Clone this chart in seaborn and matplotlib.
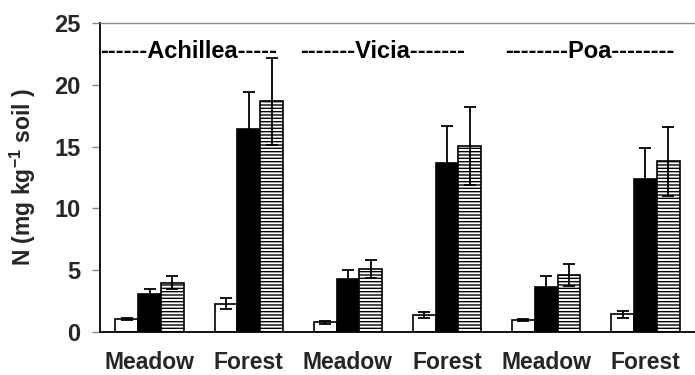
import numpy as np
import pandas as pd
import matplotlib
matplotlib.use("Agg")
import matplotlib.pyplot as plt
import seaborn as sns

# ---- data ----
groups = ["Meadow", "Forest", "Meadow", "Forest", "Meadow", "Forest"]
species = ["Achillea", "Vicia", "Poa"]
species_titles = ["------Achillea-----", "-------Vicia-------", "--------Poa--------"]
treatments = ["T1", "T2", "T3"]

white_vals = [1.05, 2.3, 0.78, 1.4, 0.97, 1.45]
white_err = [0.06, 0.47, 0.10, 0.25, 0.05, 0.28]
black_vals = [3.1, 16.4, 4.3, 13.65, 3.65, 12.4]
black_err = [0.35, 3.0, 0.75, 3.05, 0.85, 2.45]
striped_vals = [4.0, 18.65, 5.1, 15.05, 4.6, 13.8]
striped_err = [0.5, 3.55, 0.72, 3.15, 0.88, 2.8]

yticks = [0, 5, 10, 15, 20, 25]

# ---- build table ----
pos_labels = [f"{g}{i}" for i, g in enumerate(groups)]
rows = []
for vals, errs, t in [(white_vals, white_err, treatments[0]),
                      (black_vals, black_err, treatments[1]),
                      (striped_vals, striped_err, treatments[2])]:
    for p, v, e in zip(pos_labels, vals, errs):
        rows.append({"pos": p, "treat": t, "N": v, "err": e})
df = pd.DataFrame(rows)

sns.set_theme(style="white")
plt.rcParams["font.family"] = ["Liberation Sans", "DejaVu Sans"]
plt.rcParams["font.weight"] = "bold"
plt.rcParams["mathtext.fontset"] = "custom"
plt.rcParams["mathtext.rm"] = "Liberation Sans:bold"
plt.rcParams["mathtext.default"] = "rm"
plt.rcParams["hatch.linewidth"] = 1.0
plt.rcParams["hatch.color"] = "black"

fig = plt.figure(figsize=(6.95, 3.75), dpi=100)
L, R, B, T = 100 / 695, 695 / 695, (375 - 332) / 375, (375 - 23) / 375
ax = fig.add_axes([L, B, R - L, T - B])

width = 0.69
sns.barplot(data=df, x="pos", y="N", hue="treat", order=pos_labels,
            hue_order=treatments, palette=["white", "black", "white"],
            width=width, gap=0, errorbar=None, edgecolor="black",
            linewidth=1.2, saturation=1, legend=False, ax=ax)

# hatch the third treatment and add error bars from patch geometry
bars = [p for p in ax.patches if p.get_height() > 0]
n = len(pos_labels)
for k, t in enumerate(treatments):
    sub = df[df.treat == t].reset_index(drop=True)
    for i in range(n):
        p = bars[k * n + i]
        if k == 2:
            p.set_hatch("-----")
        xc = p.get_x() + p.get_width() / 2
        ax.errorbar(xc, p.get_height(), yerr=sub.loc[i, "err"], fmt="none",
                    ecolor="black", elinewidth=1.3, capsize=4, capthick=1.3,
                    zorder=3)

# axes styling
ax.set_ylim(0, 25)
ax.set_xlim(-0.5, -0.5 + 595 / 100.3)
ax.set_yticks(yticks)
ax.set_yticklabels([str(v) for v in yticks], fontsize=17, fontweight="bold")
ax.set_xticks(range(n))
ax.set_xticklabels(groups, fontsize=16.5, fontweight="bold")
ax.tick_params(axis="x", which="major", length=0, pad=14)
ax.set_xticks(np.arange(-0.5, n, 1.0), minor=True)
ax.tick_params(axis="x", which="minor", length=6, width=1, color="#444444",
               direction="out")
ax.tick_params(axis="y", length=6, width=1, color="#888888", direction="out",
               pad=8, left=True)
ax.set_xlabel("")
ax.set_ylabel(r"N (mg kg$^{-1}$ soil )", fontsize=16.5, fontweight="bold")
ax.yaxis.set_label_coords(-0.104, 0.5)

for s in ["left", "bottom"]:
    ax.spines[s].set_color("black")
    ax.spines[s].set_linewidth(1.3)
ax.spines["top"].set_color("#888888")
ax.spines["top"].set_linewidth(1.0)
ax.spines["right"].set_visible(False)

# species titles
title_x = [-0.5, 1.514, 3.588]
for tx, s in zip(title_x, species_titles):
    ax.text(tx, 22.7, s, ha="left", va="center", fontsize=17,
            fontweight="bold", color="black")

fig.savefig("out.png", dpi=100)
